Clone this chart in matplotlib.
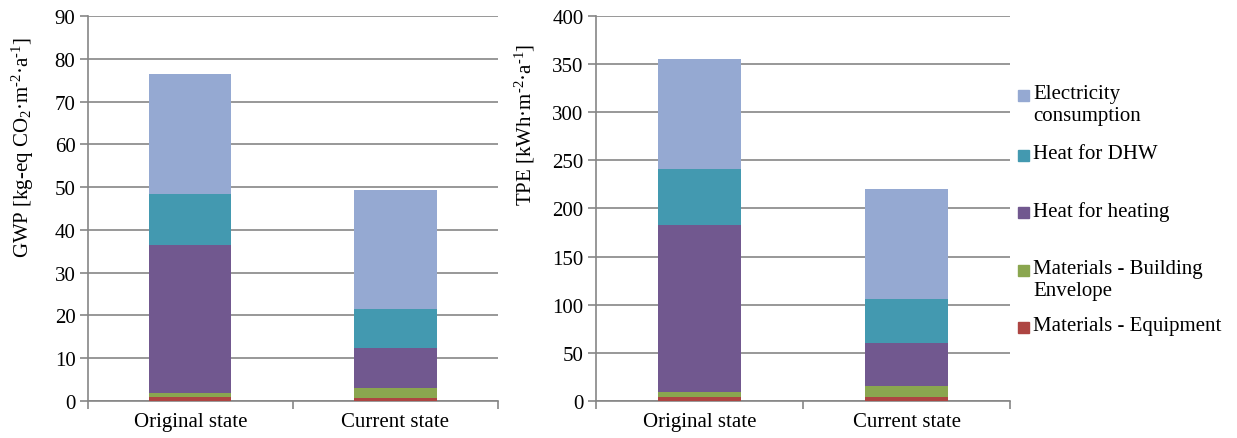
import matplotlib.pyplot as plt
from matplotlib.patches import Rectangle

plt.rcParams['font.family'] = ['Liberation Serif', 'DejaVu Serif']
plt.rcParams['mathtext.fontset'] = 'custom'
plt.rcParams['mathtext.rm'] = 'Liberation Serif'
plt.rcParams['mathtext.it'] = 'Liberation Serif:italic'

states = ['Original state', 'Current state']
components = ['Materials - Equipment', 'Materials - Building\nEnvelope',
              'Heat for heating', 'Heat for DHW', 'Electricity\nconsumption']
colors = ['#ad4542', '#8aa64f', '#71588f', '#4399b0', '#95a9d2']

# values per component, [original, current]
gwp_equipment = [0.9, 0.8]
gwp_envelope = [1.0, 2.3]
gwp_heating = [34.6, 9.3]
gwp_dhw = [11.8, 9.0]
gwp_electricity = [28.2, 28.0]

tpe_equipment = [4.5, 4.5]
tpe_envelope = [4.5, 11.0]
tpe_heating = [174.0, 44.5]
tpe_dhw = [58.0, 46.0]
tpe_electricity = [114.0, 114.0]

gwp = [gwp_equipment, gwp_envelope, gwp_heating, gwp_dhw, gwp_electricity]
tpe = [tpe_equipment, tpe_envelope, tpe_heating, tpe_dhw, tpe_electricity]

fig = plt.figure(figsize=(12.37, 4.39), dpi=100)
ax1 = fig.add_axes([0.0711, 0.0843, 0.3315, 0.877])
ax2 = fig.add_axes([0.4818, 0.0843, 0.3347, 0.877])

grid_col = '#868686'


def draw(ax, data, ymax, step, label, label_y):
    bottom = [0, 0]
    for vals, col in zip(data, colors):
        ax.bar([0, 1], vals, width=0.4, bottom=bottom, color=col, zorder=3)
        bottom = [b + v for b, v in zip(bottom, vals)]
    ax.set_xlim(-0.5, 1.5)
    ax.set_ylim(0, ymax)
    ax.set_yticks(range(0, ymax + 1, step))
    ax.set_xticks([0, 1])
    ax.set_xticklabels(states, fontsize=15)
    ax.set_xticks([-0.5, 0.5, 1.5], minor=True)
    ax.tick_params(axis='x', which='major', length=0, pad=8)
    ax.tick_params(axis='x', which='minor', length=6, width=1.2, color=grid_col)
    ax.tick_params(axis='y', length=6, width=1.2, color=grid_col, labelsize=15, pad=3)
    ax.yaxis.grid(True, color=grid_col, lw=1.2, zorder=0)
    for s in ['top', 'right']:
        ax.spines[s].set_visible(False)
    for s in ['left', 'bottom']:
        ax.spines[s].set_color(grid_col)
        ax.spines[s].set_linewidth(1.2)
    ax.set_ylabel(label, fontsize=15)
    ax.yaxis.set_label_coords(label_y[0], label_y[1])


draw(ax1, gwp, 90, 10,
     r'GWP [kg-eq CO$_2$·m$^{\text{-2}}$·a$^{\text{-1}}$]', (-0.127, 0.66))
draw(ax2, tpe, 400, 50,
     r'TPE [kWh·m$^{\text{-2}}$·a$^{\text{-1}}$]', (-0.143, 0.72))

# legend, top entry first (pixel rows of each entry's first text line)
legend_rows = [96, 156, 213, 271, 328]
for lab, col, row in zip(components[::-1], colors[::-1], legend_rows):
    yf = 1 - row / 439
    fig.patches.append(Rectangle((1018 / 1237, yf - 5.5 / 439), 11 / 1237, 11 / 439,
                                 transform=fig.transFigure, color=col, figure=fig))
    fig.text(1033 / 1237, yf + 11 / 439, lab, fontsize=15, va='top', ha='left',
             linespacing=1.2)

fig.savefig('out.png', dpi=100)
